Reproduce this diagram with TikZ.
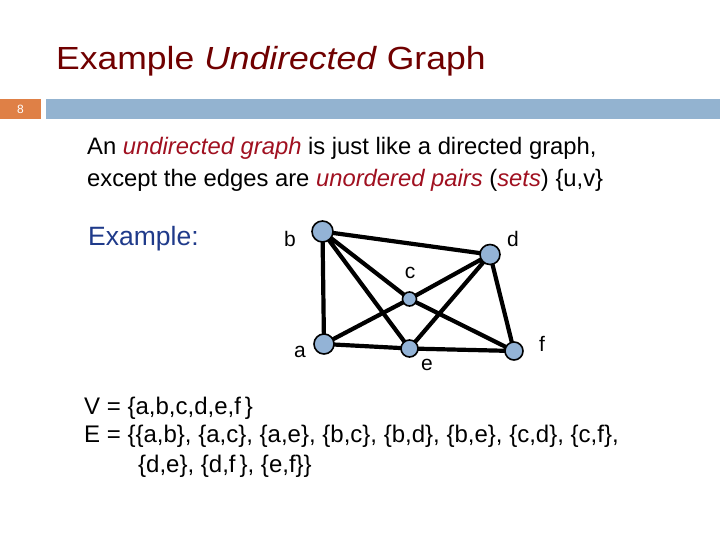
\documentclass[tikz,border=0pt]{standalone}
\usepackage{fontspec}
\usetikzlibrary{backgrounds}
\setmainfont{Liberation Sans}
\newfontfamily\titlefont[FakeStretch=1.11]{Liberation Sans}
\definecolor{titlered}{HTML}{700000}
\definecolor{emred}{HTML}{A01020}
\definecolor{exblue}{HTML}{1F3A8A}
\definecolor{barorange}{HTML}{DF8046}
\definecolor{barblue}{HTML}{93B3D0}
\definecolor{nodeblue}{HTML}{93B3D6}
\tikzset{
  vtx/.style={circle, draw=black, line width=1.6pt, fill=nodeblue, inner sep=0pt},
  edg/.style={line width=4.2pt, black},
  lbl/.style={font=\fontsize{21}{24}\selectfont, inner sep=0pt},
}
\newcommand{\emr}[1]{\textcolor{emred}{\textit{#1}}}
\begin{document}
\begin{tikzpicture}[x=1pt,y=-1pt]
\useasboundingbox (0,0) rectangle (720,540);
% title
\node[anchor=base west, inner sep=0pt, text=titlered, font=\titlefont\fontsize{32}{36}\selectfont] (title) at (56,70) {Example \textit{Undirected} Graph};
% bar
\fill[barorange] (0,99) rectangle (41,119);
\fill[barblue] (46,99) rectangle (720,119);
\node[text=white, font=\fontsize{12}{14}\selectfont, inner sep=0pt] (num) at (20.5,109.5) {8};
% text
\node[anchor=base west, inner sep=0pt, font=\fontsize{23.8}{31}\selectfont] (l1) at (87,155) {An \emr{undirected graph} is just like a directed graph,};
\node[anchor=base west, inner sep=0pt, font=\fontsize{23.8}{31}\selectfont] (l2) at (87,187) {except the edges are \emr{unordered pairs} (\emr{sets}) \{u,v\}};
\node[anchor=base west, inner sep=0pt, text=exblue, font=\fontsize{26.5}{31}\selectfont] (ex) at (88,245) {Example:};
% graph
\node[vtx, minimum size=21pt] (b) at (322.5,231.5) {};
\node[vtx, minimum size=20pt] (d) at (490,254.5) {};
\node[vtx, minimum size=14pt] (c) at (409.5,299) {};
\node[vtx, minimum size=20pt] (a) at (324,344) {};
\node[vtx, minimum size=17pt] (e) at (409.5,348.5) {};
\node[vtx, minimum size=18pt] (f) at (514,351) {};
\begin{scope}[on background layer]
\draw[edg] (a.center) -- (b.center) (a.center) -- (c.center) (a.center) -- (e.center)
  (b.center) -- (c.center) (b.center) -- (d.center) (b.center) -- (e.center)
  (c.center) -- (d.center) (c.center) -- (f.center) (d.center) -- (e.center)
  (d.center) -- (f.center) (e.center) -- (f.center);
\end{scope}
\node[lbl] (lb) at (290,239) {b};
\node[lbl] (ld) at (513,239) {d};
\node[lbl] (lc) at (410,273) {c};
\node[lbl] (la) at (300,352) {a};
\node[lbl] (le) at (427,365) {e};
\node[lbl] (lf) at (542,344) {f};
% sets
\node[anchor=base west, inner sep=0pt, font=\fontsize{24}{29}\selectfont] (v) at (84,414) {V = \{a,b,c,d,e,f\,\}};
\node[anchor=base west, inner sep=0pt, font=\fontsize{24}{29}\selectfont] (e1) at (84,442) {E = \{\{a,b\}, \{a,c\}, \{a,e\}, \{b,c\}, \{b,d\}, \{b,e\}, \{c,d\}, \{c,f\},};
\node[anchor=base west, inner sep=0pt, font=\fontsize{24}{29}\selectfont] (e2) at (138,472) {\{d,e\}, \{d,f\,\}, \{e,f\}\}};
\end{tikzpicture}
\end{document}
